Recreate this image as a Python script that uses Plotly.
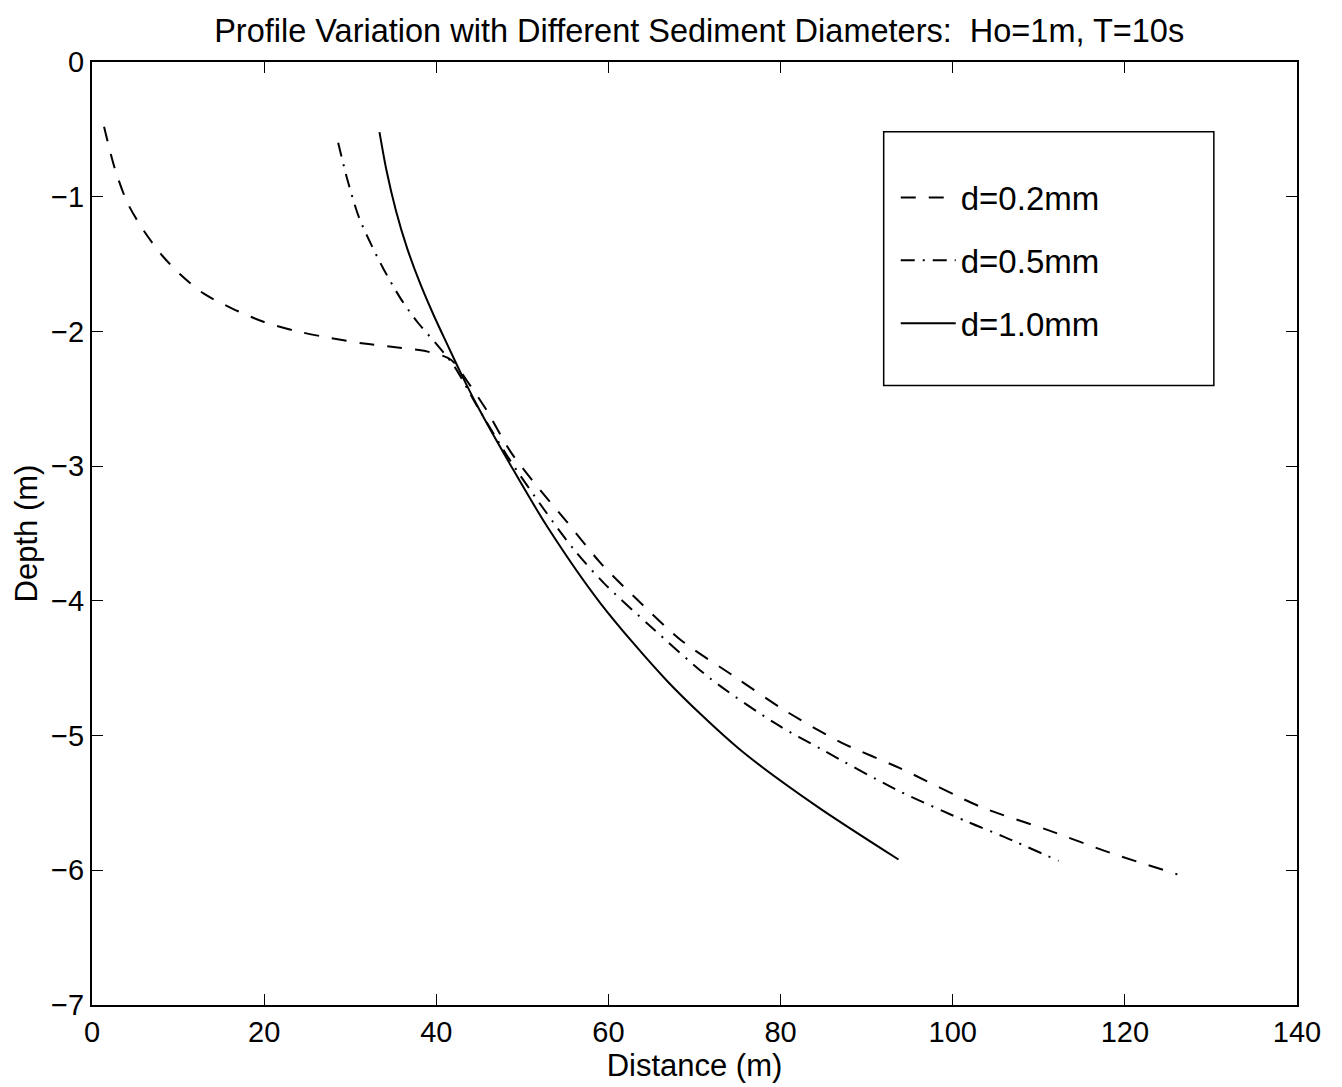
import plotly.graph_objects as go

# ---- data ----
x_d02 = [1.4, 2.6, 4.15, 6.1, 8.2, 10.3, 13.0, 16.3, 20.0, 23.9, 27.8, 31.6, 35.5, 39.0, 41.7,
         43.6, 45.8, 48.7, 52.1, 55.0, 59.1, 63.0, 68.4, 74.6, 80.4, 87.0, 93.8, 103.3, 111.0,
         118.3, 126.1]
y_d02 = [-0.48, -0.78, -1.05, -1.26, -1.44, -1.58, -1.72, -1.83, -1.93, -2.00, -2.05, -2.09,
         -2.12, -2.15, -2.21, -2.37, -2.58, -2.90, -3.18, -3.40, -3.72, -3.97, -4.29, -4.56,
         -4.81, -5.05, -5.24, -5.53, -5.70, -5.87, -6.03]

x_d05 = [28.6, 29.7, 31.0, 32.4, 33.9, 35.9, 37.8, 40.1, 42.1, 44.8, 48.5, 52.5, 56.0, 59.5,
         64.9, 71.9, 79.4, 84.7, 93.4, 101.7, 105.9, 112.3]
y_d05 = [-0.60, -0.88, -1.15, -1.35, -1.54, -1.76, -1.93, -2.10, -2.26, -2.56, -2.95, -3.32,
         -3.62, -3.87, -4.19, -4.58, -4.91, -5.10, -5.40, -5.64, -5.75, -5.93]

x_d10 = [33.4, 34.2, 35.3, 36.6, 38.1, 39.7, 41.3, 43.0, 45.0, 48.7, 52.9, 59.1, 66.9, 75.2,
         84.1, 93.7]
y_d10 = [-0.52, -0.80, -1.10, -1.38, -1.64, -1.88, -2.10, -2.33, -2.58, -3.00, -3.45, -4.02,
         -4.60, -5.10, -5.52, -5.92]

series_names = ["d=0.2mm", "d=0.5mm", "d=1.0mm"]
x_ticks = [0, 20, 40, 60, 80, 100, 120, 140]
y_ticks = [0, -1, -2, -3, -4, -5, -6, -7]

FONT = "Liberation Sans, Arial, Helvetica, sans-serif"

fig = go.Figure()
styles = ["15px,13px", "14px,8px,2px,8px", "solid"]
for name, xs, ys, dash, grp in zip(series_names, [x_d02, x_d05, x_d10], [y_d02, y_d05, y_d10],
                                   styles, ["a", "b", "c"]):
    fig.add_trace(go.Scatter(x=xs, y=ys, mode="lines", name=name, legendgroup=grp,
                             line=dict(color="black", width=2, dash=dash, shape="spline",
                                       smoothing=0.8)))

axis_common = dict(showgrid=False, zeroline=False, showline=True, linecolor="black",
                   linewidth=2, mirror="ticks", ticks="inside", ticklen=11,
                   tickcolor="black", tickwidth=1.3,
                   tickfont=dict(family=FONT, size=29, color="black"))

fig.update_layout(
    width=1342, height=1087,
    margin=dict(l=92, r=45, t=62, b=82),
    paper_bgcolor="white", plot_bgcolor="white",
    font=dict(family=FONT, color="black"),
    title=dict(text="Profile Variation with Different Sediment Diameters:  Ho=1m, T=10s",
               x=0.521, xanchor="center", y=0.972, yanchor="middle",
               font=dict(family=FONT, size=32.5, color="black")),
    xaxis=dict(range=[0, 140], tickvals=x_ticks,
               title=dict(text="Distance (m)", font=dict(family=FONT, size=31, color="black"),
                          standoff=7),
               **axis_common),
    yaxis=dict(range=[-7, 0], tickvals=y_ticks,
               title=dict(text="Depth (m)", font=dict(family=FONT, size=31, color="black"),
                          standoff=4),
               **axis_common),
    showlegend=True,
    legend=dict(x=0.667, xanchor="left", y=0.886, yanchor="top",
                bgcolor="rgba(0,0,0,0)", borderwidth=0,
                font=dict(family=FONT, size=33, color="black"),
                itemwidth=55, tracegroupgap=17, traceorder="grouped"),
    shapes=[dict(type="rect", xref="paper", yref="paper",
                 x0=0.657, x1=0.931, y0=0.657, y1=0.926,
                 line=dict(color="black", width=1.5), fillcolor="white", layer="below")],
)

fig.write_html("out.html")
